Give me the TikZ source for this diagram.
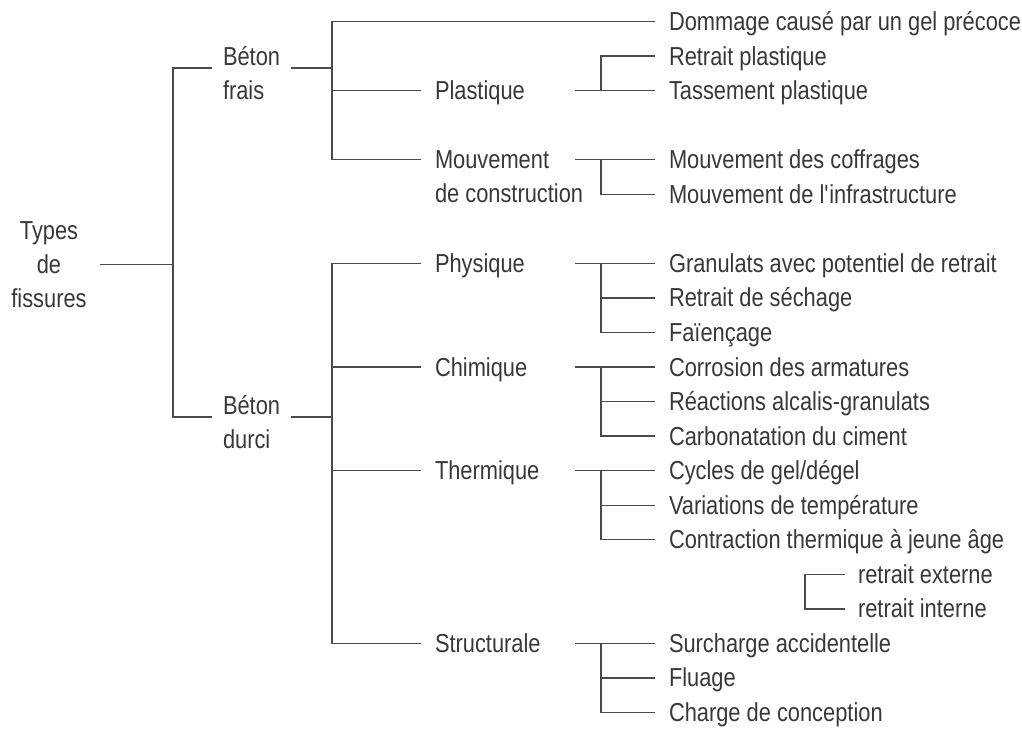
\documentclass[tikz,border=0pt]{standalone}
\usepackage{fontspec}
\setmainfont{Liberation Sans}[FakeStretch=0.84]
\definecolor{lncol}{HTML}{4A4A4A}
\definecolor{txtcol}{HTML}{383838}
\newcommand\diagfont{\fontsize{26}{34}\selectfont}
\newcommand\twoline[2]{\begin{tabular}[t]{@{}l@{}}#1\\#2\end{tabular}}
\begin{document}
\begin{tikzpicture}[x=1pt,y=-1pt,
  ln/.style={line width=1.4pt, draw=lncol},
  lbl/.style={inner sep=0pt, text height=24pt, text depth=6pt, font=\diagfont, text=txtcol},
  leaf/.style={lbl, anchor=west, outer xsep=14pt},
  catlbl/.style={lbl, anchor=west, outer xsep=14pt},
  betonlbl/.style={lbl, text height=0pt, text depth=6pt, anchor=west, outer xsep=11pt}]
\useasboundingbox[fill=white] (0,0) rectangle (1022,728);
% ---------- nodes ----------
\node[lbl, anchor=center, outer xsep=13pt] (types) at (49,230.5)
  {\begin{tabular}[t]{@{}c@{}}Types\\de\\fissures\end{tabular}};
\node[betonlbl] (bf) at (212,68) {\twoline{Béton}{frais}};
\node[betonlbl] (bd) at (212,417) {\twoline{Béton}{durci}};
\node[catlbl] (plast) at (421,90.6) {Plastique};
\node[catlbl] (mouv) at (421,159.7) {\twoline{Mouvement}{de construction}};
\node[catlbl] (phys) at (421,263.35) {Physique};
\node[catlbl] (chim) at (421,367) {Chimique};
\node[catlbl] (therm) at (421,470.65) {Thermique};
\node[catlbl] (struct) at (421,643.4) {Structurale};
\node[leaf] (dom) at (655,21.5) {Dommage causé par un gel précoce};
\node[leaf] (retp) at (655,56.05) {Retrait plastique};
\node[leaf] (tass) at (655,90.6) {Tassement plastique};
\node[leaf] (coff) at (655,159.7) {Mouvement des coffrages};
\node[leaf] (infra) at (655,194.25) {Mouvement de l\textquotesingle infrastructure};
\node[leaf] (gran) at (655,263.35) {Granulats avec potentiel de retrait};
\node[leaf] (sech) at (655,297.9) {Retrait de séchage};
\node[leaf] (faien) at (655,332.45) {Faïençage};
\node[leaf] (corr) at (655,367) {Corrosion des armatures};
\node[leaf] (alca) at (655,401.55) {Réactions alcalis-granulats};
\node[leaf] (carb) at (655,436.1) {Carbonatation du ciment};
\node[leaf] (cycl) at (655,470.65) {Cycles de gel/dégel};
\node[leaf] (vari) at (655,505.2) {Variations de température};
\node[leaf] (cont) at (655,539.75) {Contraction thermique à jeune âge};
\node[leaf, outer xsep=13pt] (rext) at (845,574.3) {retrait externe};
\node[leaf, outer xsep=13pt] (rint) at (845,608.85) {retrait interne};
\node[leaf] (surc) at (655,643.4) {Surcharge accidentelle};
\node[leaf] (flua) at (655,677.95) {Fluage};
\node[leaf] (charg) at (655,712.5) {Charge de conception};
% ---------- junctions ----------
\coordinate (jT) at (173,264.5);
\coordinate (jBF) at (173,68);
\coordinate (jBD) at (173,417);
\coordinate (kF) at (332,68);
\coordinate (kF0) at (332,21.5);
\coordinate (kF4) at (332,159.7);
\coordinate (kD) at (332,417);
\coordinate (kD7) at (332,263.35);
\coordinate (kD18) at (332,643.4);
\coordinate (sP) at (575,90.6);   \coordinate (vP) at (601,56.05);
\coordinate (sM) at (575,159.7);  \coordinate (vM) at (601,194.25);
\coordinate (s7) at (575,263.35); \coordinate (v7) at (601,332.45);
\coordinate (s10) at (575,367);   \coordinate (v10) at (601,436.1);
\coordinate (s13) at (575,470.65);\coordinate (v13) at (601,539.75);
\coordinate (s18) at (575,643.4); \coordinate (v18) at (601,712.5);
\coordinate (rv1) at (805,574.3); \coordinate (rv2) at (805,608.85);
% ---------- connectors ----------
\draw[ln] (types.east |- jT) -- (jT);
\draw[ln] (bf.west) -- (jBF) -- (jBD) -- (bd.west);
\draw[ln] (bf.east) -- (kF);
\draw[ln] (dom.west) -- (kF0) -- (kF4) -- (mouv.west);
\draw[ln] (kF0 |- plast.west) -- (plast.west);
\draw[ln] (sP) -- (tass.west);
\draw[ln] (vP |- sP) -- (vP) -- (retp.west);
\draw[ln] (sM) -- (coff.west);
\draw[ln] (vM |- sM) -- (vM) -- (infra.west);
\draw[ln] (bd.east) -- (kD);
\draw[ln] (phys.west) -- (kD7) -- (kD18) -- (struct.west);
\draw[ln] (kD7 |- chim.west) -- (chim.west);
\draw[ln] (kD7 |- therm.west) -- (therm.west);
% Physique
\draw[ln] (s7) -- (gran.west);
\draw[ln] (v7 |- s7) -- (v7) -- (faien.west);
\draw[ln] (v7 |- sech.west) -- (sech.west);
% Chimique
\draw[ln] (s10) -- (corr.west);
\draw[ln] (v10 |- s10) -- (v10) -- (carb.west);
\draw[ln] (v10 |- alca.west) -- (alca.west);
% Thermique
\draw[ln] (s13) -- (cycl.west);
\draw[ln] (v13 |- s13) -- (v13) -- (cont.west);
\draw[ln] (v13 |- vari.west) -- (vari.west);
% retrait
\draw[ln] (rext.west) -- (rv1) -- (rv2) -- (rint.west);
% Structurale
\draw[ln] (s18) -- (surc.west);
\draw[ln] (v18 |- s18) -- (v18) -- (charg.west);
\draw[ln] (v18 |- flua.west) -- (flua.west);
\end{tikzpicture}
\end{document}
